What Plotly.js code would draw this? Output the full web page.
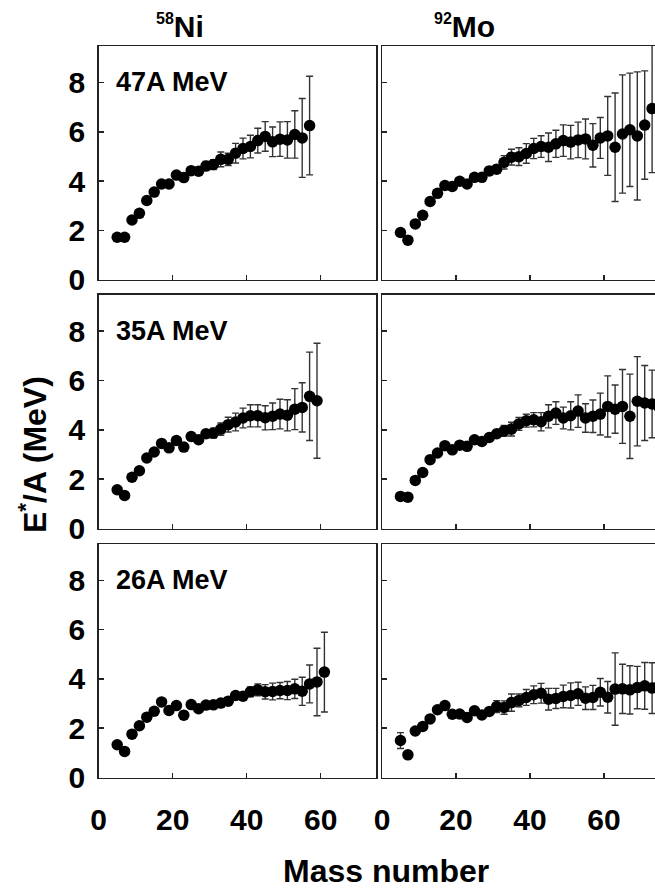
<!DOCTYPE html>
<html>
<head>
<meta charset="utf-8">
<script src="https://cdn.plot.ly/plotly-3.0.1.min.js"></script>
<style>
html,body{margin:0;padding:0;overflow:hidden;background:#fff;}
#chart{width:660px;height:888px;}
</style>
</head>
<body>
<div id="chart"></div>
<script>
// ---- data ----
const columnTitles = ['<sup><span style="font-size:16px">58</span></sup>Ni', '<sup><span style="font-size:16px">92</span></sup>Mo'];
const energyLabels = ['47A MeV', '35A MeV', '26A MeV'];
const xTickVals = [0, 20, 40, 60];
const yTickVals = [0, 2, 4, 6, 8];

const Ni47_A = [5,7,9,11,13,15,17,19,21,23,25,27,29,31,33,35,37,39,41,43,45,47,49,51,53,55,57];
const Ni47_E = [1.72,1.72,2.42,2.69,3.21,3.55,3.88,3.88,4.24,4.14,4.42,4.40,4.61,4.67,4.88,4.88,5.13,5.32,5.40,5.64,5.81,5.59,5.70,5.67,5.89,5.75,6.25];
const Ni47_err = [0.05,0.05,0.05,0.05,0.06,0.06,0.07,0.07,0.08,0.09,0.1,0.12,0.18,0.2,0.3,0.25,0.4,0.42,0.46,0.5,0.6,0.6,0.7,0.74,0.96,1.6,2.0];

const Mo47_A = [5,7,9,11,13,15,17,19,21,23,25,27,29,31,33,35,37,39,41,43,45,47,49,51,53,55,57,59,61,63,65,67,69,71,73];
const Mo47_E = [1.91,1.60,2.26,2.61,3.17,3.50,3.82,3.78,3.99,3.88,4.15,4.15,4.41,4.48,4.76,4.97,4.99,5.12,5.32,5.40,5.37,5.51,5.64,5.58,5.67,5.71,5.45,5.75,5.83,5.37,5.91,6.08,5.83,6.27,6.94];
const Mo47_err = [0.05,0.05,0.05,0.05,0.06,0.07,0.08,0.08,0.09,0.1,0.12,0.14,0.17,0.17,0.27,0.32,0.36,0.4,0.41,0.44,0.58,0.55,0.64,0.68,0.72,0.81,0.88,0.83,1.6,2.2,2.4,2.3,2.6,2.2,2.6];

const Ni35_A = [5,7,9,11,13,15,17,19,21,23,25,27,29,31,33,35,37,39,41,43,45,47,49,51,53,55,57,59];
const Ni35_E = [1.57,1.34,2.08,2.34,2.86,3.10,3.45,3.27,3.57,3.30,3.73,3.60,3.84,3.87,4.03,4.21,4.32,4.48,4.57,4.57,4.49,4.55,4.64,4.59,4.84,4.91,5.36,5.18];
const Ni35_err = [0.05,0.05,0.05,0.05,0.06,0.06,0.07,0.07,0.08,0.09,0.1,0.12,0.16,0.2,0.25,0.3,0.36,0.4,0.45,0.45,0.49,0.54,0.6,0.63,0.83,1.0,1.79,2.33];

const Mo35_A = [5,7,9,11,13,15,17,19,21,23,25,27,29,31,33,35,37,39,41,43,45,47,49,51,53,55,57,59,61,63,65,67,69,71,73,75];
const Mo35_E = [1.30,1.27,1.95,2.27,2.79,3.06,3.36,3.19,3.38,3.33,3.60,3.53,3.69,3.84,3.96,4.03,4.24,4.37,4.41,4.33,4.55,4.68,4.48,4.57,4.76,4.48,4.55,4.64,4.95,4.84,4.95,4.55,5.16,5.09,5.05,4.90];
const Mo35_err = [0.05,0.05,0.05,0.05,0.06,0.06,0.07,0.08,0.08,0.09,0.1,0.12,0.1,0.15,0.22,0.28,0.26,0.26,0.29,0.37,0.47,0.46,0.44,0.57,0.66,0.58,0.66,0.85,1.24,0.98,1.5,1.71,1.81,1.52,1.37,1.4];

const Ni26_A = [5,7,9,11,13,15,17,19,21,23,25,27,29,31,33,35,37,39,41,43,45,47,49,51,53,55,57,59,61];
const Ni26_E = [1.33,1.06,1.76,2.10,2.45,2.69,3.07,2.72,2.92,2.53,2.96,2.79,2.94,2.95,3.02,3.10,3.33,3.30,3.48,3.56,3.48,3.49,3.53,3.53,3.60,3.50,3.80,3.88,4.28];
const Ni26_err = [0.05,0.05,0.05,0.05,0.05,0.06,0.06,0.06,0.07,0.07,0.08,0.08,0.09,0.09,0.1,0.1,0.12,0.14,0.2,0.24,0.29,0.34,0.33,0.37,0.39,0.57,0.77,1.37,1.62];

const Mo26_A = [5,7,9,11,13,15,17,19,21,23,25,27,29,31,33,35,37,39,41,43,45,47,49,51,53,55,57,59,61,63,65,67,69,71,73,75];
const Mo26_E = [1.50,0.92,1.89,2.07,2.38,2.75,2.92,2.57,2.58,2.44,2.71,2.54,2.68,2.88,2.84,3.04,3.13,3.25,3.36,3.42,3.18,3.21,3.29,3.33,3.40,3.22,3.25,3.46,3.26,3.59,3.60,3.56,3.65,3.72,3.63,3.75];
const Mo26_err = [0.32,0.05,0.05,0.05,0.06,0.06,0.07,0.1,0.12,0.1,0.15,0.15,0.15,0.24,0.27,0.35,0.26,0.32,0.36,0.4,0.44,0.41,0.46,0.51,0.47,0.46,0.49,0.56,0.64,1.47,1.0,0.98,0.86,0.95,1.03,1.0];

// ---- build ----
const W = 660, H = 888;
const panels = [
  {A: Ni47_A, E: Ni47_E, err: Ni47_err, ax: ''},
  {A: Mo47_A, E: Mo47_E, err: Mo47_err, ax: '2'},
  {A: Ni35_A, E: Ni35_E, err: Ni35_err, ax: '3'},
  {A: Mo35_A, E: Mo35_E, err: Mo35_err, ax: '4'},
  {A: Ni26_A, E: Ni26_E, err: Ni26_err, ax: '5'},
  {A: Mo26_A, E: Mo26_E, err: Mo26_err, ax: '6'}
];

const FONT = 'Liberation Sans, Arial, Helvetica, sans-serif';
const traces = panels.map(p => ({
  type: 'scatter', mode: 'markers',
  x: p.A, y: p.E,
  xaxis: 'x' + p.ax, yaxis: 'y' + p.ax,
  marker: {color: '#000', size: 11.5, line: {width: 0}},
  error_y: {type: 'data', array: p.err, visible: true, color: '#333', thickness: 1.4, width: 3.5},
  cliponaxis: true,
  showlegend: false, hoverinfo: 'skip'
}));

// pixel geometry -> domains
const colPx = [[98.7, 376.2], [382, 659.5]];
const rowPx = [[46, 279.6], [294.7, 528.5], [544, 777.5]];

const layout = {
  width: W, height: H,
  margin: {l: 0, r: 0, t: 0, b: 0, pad: 0},
  paper_bgcolor: '#fff', plot_bgcolor: '#fff',
  font: {family: FONT, color: '#000', weight: 'bold'},
  showlegend: false,
  annotations: []
};

panels.forEach((p, i) => {
  const col = i % 2, row = Math.floor(i / 2);
  const xd = [colPx[col][0] / W, colPx[col][1] / W];
  const yd = [(H - rowPx[row][1]) / H, (H - rowPx[row][0]) / H];
  const axStyle = {
    showline: true, mirror: true, linecolor: '#222', linewidth: 1.5,
    ticks: 'inside', ticklen: 5, tickwidth: 1.5, tickcolor: '#222',
    showgrid: false, zeroline: false, fixedrange: true,
    tickfont: {family: FONT, size: 30, color: '#000', weight: 'bold'}
  };
  layout['xaxis' + p.ax] = Object.assign({}, axStyle, {
    domain: xd, range: [0, 75], tickvals: xTickVals, ticktext: xTickVals.map(String),
    anchor: 'y' + p.ax, showticklabels: row === 2, ticklabelstandoff: 15
  });
  layout['yaxis' + p.ax] = Object.assign({}, axStyle, {
    domain: yd, range: [0, 9.48], tickvals: yTickVals, ticktext: yTickVals.map(String),
    anchor: 'x' + p.ax, showticklabels: col === 0, ticklabelstandoff: 6
  });
  if (col === 0) {
    layout.annotations.push({
      xref: 'x' + p.ax, yref: 'y' + p.ax, x: 4.0, y: 8.0,
      xanchor: 'left', yanchor: 'middle', showarrow: false,
      text: energyLabels[row], font: {family: FONT, size: 27, color: '#000', weight: 'bold'}
    });
  }
});

// column titles
const colTitleX = [180, 464];
columnTitles.forEach((t, c) => {
  layout.annotations.push({
    xref: 'paper', yref: 'paper', x: colTitleX[c] / W, y: (H - 26) / H,
    xanchor: 'center', yanchor: 'middle', showarrow: false,
    text: t, font: {family: FONT, size: 30, color: '#000', weight: 'bold'}
  });
});

// axis titles
layout.annotations.push({
  xref: 'paper', yref: 'paper', x: 33 / W, y: (H - 455) / H,
  xanchor: 'center', yanchor: 'middle', showarrow: false, textangle: -90,
  text: 'E<sup>*</sup>/A (MeV)', font: {family: FONT, size: 32, color: '#000', weight: 'bold'}
});
layout.annotations.push({
  xref: 'paper', yref: 'paper', x: 386 / W, y: (H - 871) / H,
  xanchor: 'center', yanchor: 'middle', showarrow: false,
  text: 'Mass number', font: {family: FONT, size: 32, color: '#000', weight: 'bold'}
});

Plotly.newPlot('chart', traces, layout, {staticPlot: true, displayModeBar: false});
</script>
</body>
</html>
